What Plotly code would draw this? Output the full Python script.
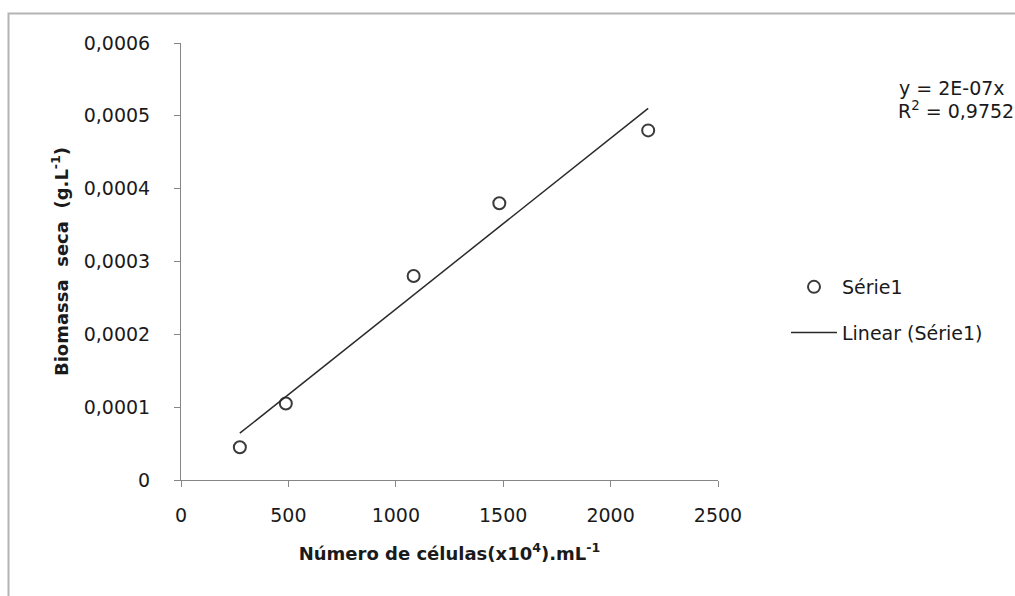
import numpy as np
import plotly.graph_objects as go

# Data
cells = [274, 488, 1083, 1482, 2175]
biomass = [0.000045, 0.000105, 0.00028, 0.00038, 0.00048]

x_ticks = [0, 500, 1000, 1500, 2000, 2500]
x_labels = ["0", "500", "1000", "1500", "2000", "2500"]
y_ticks = [0, 0.0001, 0.0002, 0.0003, 0.0004, 0.0005, 0.0006]
y_labels = ["0", "0,0001", "0,0002", "0,0003", "0,0004", "0,0005", "0,0006"]

eq_text = "y = 2E-07x"
r2_text = "R<sup>2</sup> = 0,9752"

# Linear trendline through the origin (least squares)
xa = np.array(cells, dtype=float)
ya = np.array(biomass, dtype=float)
slope = float(np.sum(xa * ya) / np.sum(xa * xa))
trend_x = [min(cells), max(cells)]
trend_y = [slope * v for v in trend_x]

W, H = 1015, 596
L, R, T, B = 181, 718, 43, 480
pw, ph = R - L, B - T

def px(xp):
    return (xp - L) / pw

def py(yp):
    return (B - yp) / ph

FONT = "DejaVu Sans"
TXT = "#1a1a1a"
AX = "#868686"

fig = go.Figure()
fig.add_trace(go.Scatter(
    x=cells, y=biomass, mode="markers", name="Série1",
    legendgroup="a",
    marker=dict(symbol="circle-open", size=12, color="#3a3a3a",
                line=dict(width=2, color="#3a3a3a")),
    cliponaxis=False,
))
fig.add_trace(go.Scatter(
    x=trend_x, y=trend_y, mode="lines", name="Linear (Série1)",
    legendgroup="b",
    line=dict(color="#2a2a2a", width=1.5),
))

fig.update_layout(
    width=W, height=H,
    margin=dict(l=L, r=W - R, t=T, b=H - B),
    paper_bgcolor="white", plot_bgcolor="white",
    font=dict(family=FONT, size=19, color=TXT),
    showlegend=True,
    legend=dict(
        x=px(786), y=py(268), xanchor="left", yanchor="top",
        font=dict(family=FONT, size=19, color=TXT),
        tracegroupgap=18, itemwidth=46, bgcolor="rgba(0,0,0,0)",
    ),
    xaxis=dict(
        range=[0, 2500], tickvals=x_ticks, ticktext=x_labels,
        showline=True, linecolor=AX, linewidth=1,
        ticks="outside", ticklen=6, tickcolor=AX, tickwidth=1,
        showgrid=False, zeroline=False,
        tickfont=dict(family=FONT, size=19, color=TXT),
        ticklabelstandoff=12,
        title=dict(text="<b>Número de células(x10<sup>4</sup>).mL<sup>-1</sup></b>",
                   font=dict(family=FONT, size=18, color=TXT), standoff=22),
    ),
    yaxis=dict(
        range=[0, 0.0006], tickvals=y_ticks, ticktext=y_labels,
        showline=True, linecolor=AX, linewidth=1,
        ticks="outside", ticklen=6, tickcolor=AX, tickwidth=1,
        showgrid=False, zeroline=False,
        tickfont=dict(family=FONT, size=19, color=TXT),
        ticklabelstandoff=20,
        title=dict(text="<b>Biomassa  seca  (g.L<sup>-1</sup>)</b>",
                   font=dict(family=FONT, size=18, color=TXT), standoff=10),
    ),
    shapes=[dict(type="rect", xref="paper", yref="paper",
                 x0=px(8.5), x1=px(1100), y0=py(700), y1=py(13.5),
                 line=dict(color="#b4b4b4", width=2), fillcolor="rgba(0,0,0,0)",
                 layer="below")],
    annotations=[
        dict(text=eq_text, xref="paper", yref="paper", x=px(897), y=py(88),
             xanchor="left", yanchor="middle", showarrow=False,
             font=dict(family=FONT, size=19, color=TXT)),
        dict(text=r2_text, xref="paper", yref="paper", x=px(896), y=py(110),
             xanchor="left", yanchor="middle", showarrow=False,
             font=dict(family=FONT, size=19, color=TXT)),
    ],
)

fig.write_html("out.html")
